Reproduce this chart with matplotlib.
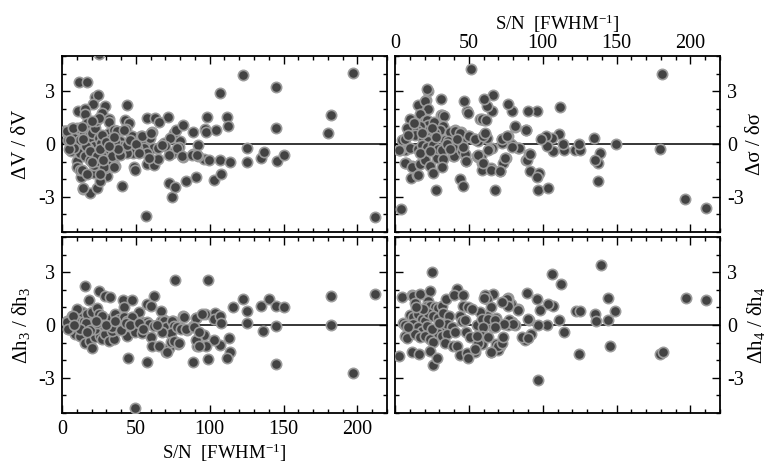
import matplotlib
matplotlib.use("Agg")
import matplotlib.pyplot as plt
from matplotlib.ticker import MultipleLocator

plt.rcParams['font.family'] = ['Liberation Serif', 'DejaVu Serif']
plt.rcParams['mathtext.fontset'] = 'custom'
plt.rcParams['mathtext.rm'] = 'Liberation Serif'
plt.rcParams['mathtext.it'] = 'Liberation Serif:italic'
plt.rcParams['mathtext.default'] = 'regular'
plt.rcParams['axes.unicode_minus'] = False

# ---- Panel 1: dV / delta V ----
v_sn = [122.4, 106.8, 144.6, 197.3, 181.9, 179.9, 144.8, 211.8, 57, 74.7, 72.6, 76.5, 84.2, 90.7, 102.7, 107.5,
        40.5, 30.8, 14.3, 18.8, 23.5, 12.7, 48.9, 49.3, 57.5, 62.4, 65, 81.7, 96.4, 99.5, 107.2, 113.6, 125.3, 125.3,
        135, 136.6, 145.7, 150.2, 88.9, 92.1, 91.9, 80.1, 75.6, 77, 81.9, 88.7, 96.6, 97.3, 98.4, 104.1, 111.8, 112.7,
        71.5, 57.7, 62.7, 66, 61.1, 44.3, 42.5, 45.2, 36.7, 43.2, 47.3, 53.2, 53.8, 59.7, 68.8, 73.3, 74.7, 79, 69.9,
        61.5, 55.7, 57.5, 59, 50.7, 48.4, 43.9, 39.4, 34.8, 35.9, 26.2, 29, 24.9, 21.7, 25.8, 10.4, 10.4, 12.2, 11.8,
        17.2, 25, 22.6, 24.4, 20.8, 10.9, 15.8, 15.4, 29, 27.1, 31.7, 32.1, 2.3, 4.1, 6.8, 7.9, 10.2, 9, 6.3, 12.4,
        15.8, 17, 14.7, 18.1, 19.2, 20.4, 22.6, 21.5, 17.6, 15.8, 19.2, 22.6, 21.5, 23.8, 24.9, 26.7, 27.1, 29.4,
        30.5, 28.3, 32.8, 33.9, 31.7, 35.1, 37.3, 41.9, 39.6, 40.7, 44.1, 39.6, 13.6, 23, 25, 20, 27, 12, 16, 19,
        24, 26, 33, 36, 38, 30, 14, 8, 5, 17, 20, 26, 28, 32, 35, 46, 50, 52, 3.4, 5.4, 7.2, 13.6, 54.3, 60, 65.2,
        67.9, 72.4, 78, 81.4, 88.2, 91.6, 35.1, 14.0]
v_dv = [3.9, 2.91, 3.24, 4.06, 1.62, 0.63, 0.91, -4.13, -4.1, -3.0, -2.23, -2.42, -2.08, -1.89, -2.04, -1.71,
        -2.38, -1.81, -2.53, -2.78, -2.48, -1.85, -1.28, -1.5, -1.16, -1.18, -0.86, -0.74, -0.84, -0.93, -0.9, -1.05,
        -0.23, -1.03, -0.8, -0.48, -0.97, -0.63, -0.59, -0.67, -0.04, 0.15, 0.63, 0.78, 1.09, 0.7, 0.86, 0.67, 1.54,
        0.78, 1.54, 1.05, 1.54, 1.45, 1.47, 1.24, 0.67, 2.21, 1.39, 1.2, 0.76, 0.86, 0.44, 0.44, 0.17, 0.32, 0.06,
        0.34, -0.51, -0.17, -0.13, -0.25, -0.23, -0.51, -0.8, -0.23, -0.51, -0.51, -0.55, -0.99, -1.24, -1.12, -1.35,
        -1.47, -1.66, -2.08, -0.99, -1.28, -1.47, 3.52, 3.52, 5.1, 2.69, 2.76, 2.3, 1.9, 2.0, 1.68, 2.15, 1.77, 1.43,
        1.24, 0.72, 0.25, 0.91, 0.34, 0.91, -0.13, -0.42, -0.51, 0.82, 1.2, 0.63, 0.44, 0.15, 0.63, 0.91, -0.13,
        -0.23, -0.7, -0.9, -0.51, -1.18, -0.99, 0.34, 0.06, -0.32, -0.61, -0.9, -1.28, -0.32, -0.7, 0.63, 0.82, 0.72,
        0.82, 0.15, -0.13, -0.04, -0.61, -1.47, 1.3, 1.5, 1.3, 0.5, 0.2, -0.1, -0.4, -0.7, -0.3, 0.3, 0.1, -0.3,
        0.1, 0.3, -0.2, -0.3, -1.7, -1.0, -1.7, -0.9, -0.1, 0.4, 0.2, 0.0, -0.5, 0.72, 0.25, 0.91, 0.95, 0.44, 0.63,
        -0.23, -0.04, -0.61, -0.23, -0.7, -0.61, -0.61, -1.28, -2.51]

# ---- Panel 2: d sigma / delta sigma ----
s_sn = [51.5, 181, 179.5, 196.4, 210.6, 4.1, 27.5, 67.7, 96.6, 103.4, 44, 46.3, 137.7, 137.7, 138.8, 135.4, 134.5,
        149.4, 121.9, 125.3, 124.6, 114.4, 113.5, 111.1, 112, 106, 107.2, 102.5, 102.7, 98.6, 90.7, 88.7, 91.6, 97.5,
        96.2, 96, 90.3, 88.7, 81.3, 79, 76.3, 83.5, 80.1, 78.6, 76.3, 72.2, 72.7, 74.9, 73.4, 71.1, 65, 66.6, 65.9,
        62.1, 60.5, 60.3, 57.6, 61, 62.1, 65.5, 63.7, 56.4, 53.7, 58.3, 56, 59.1, 58.7, 48.8, 47, 49.7, 47.4, 48.1,
        45.1, 40.6, 44.7, 39.3, 40.2, 31.2, 32.7, 31.2, 22.6, 21.4, 20.8, 15.8, 6.8, 3.4, 7.2, 11.7, 10.8, 15.1,
        20.3, 22.6, 49.2, 10.2, 16.9, 20.3, 21.4, 22.6, 26.6, 31.6, 33.4, 32.7, 30.5, 27.1, 23.7, 19.2, 16.9, 14.7,
        12.4, 7.9, 13.5, 4.5, 6.8, 19.2, 24.8, 22.6, 33.9, 37.2, 40.6, 44, 36.1, 41.8, 50.1, 54.2, 59.8, 60.9, 59.1,
        61.4, 72.2, 75.6, 81.3, 88.5, 84, 79, 2.7, 10.2, 15.8, 18.1, 21.4, 26, 6.8, 11.3, 15.3, 16.9, 20.3, 23.7,
        26, 28.2, 29.3, 31.6, 32.7, 31.6, 39.5, 40.2, 45.1, 47.4, 47.9, 46.3, 55.3, 56.4, 59.8, 65, 63.2, 71.1, 74.5,
        89.2, 91.4, 18, 25, 28, 35, 13, 9, 17, 24, 37, 42]
s_ds = [4.25, 4.0, -0.29, -3.12, -3.66, -3.7, -2.61, -2.61, -2.61, -2.48, -2.0, -2.38, -2.13, -1.09, -0.51, -0.93,
        0.36, 0.0, -0.32, -0.32, 0.0, -0.32, 0.02, 0.59, 2.1, 0.34, -0.38, 0.44, -0.1, 0.3, -0.55, -0.9, -1.56,
        -1.66, -1.85, 1.85, 1.89, 0.78, 0.97, 1.87, 2.25, -0.23, -0.13, 0.0, 0.44, 0.29, 0.06, -0.8, -1.09, -1.56,
        -1.37, 2.76, 1.87, 2.15, 2.57, 1.39, 1.43, 0.59, 0.34, -0.23, -0.29, 0.15, 0.29, -0.67, -0.74, -1.09, -1.47,
        1.87, 2.44, 0.44, -0.61, -0.99, 0.15, 0.82, 0.67, -0.7, -0.23, 2.57, 1.58, 1.62, 3.01, 3.1, 2.48, 2.19,
        -0.32, -0.32, -1.09, -1.24, -1.96, -1.75, 2.44, 2.0, 1.77, 1.43, 1.68, 1.29, 1.39, 1.1, 1.24, 1.62, 1.58,
        1.05, 0.82, 0.63, 0.72, 0.82, 1.01, 0.78, 0.91, 0.91, 0.53, 0.25, 0.29, 0.34, 0.29, 0.15, 0.25, 0.66, 0.72,
        0.63, 0.15, 0.15, 0.44, 0.29, 0.44, 0.63, 1.43, 1.39, 0.29, 0.47, 1.01, 0.82, -0.23, -0.17, -0.32, -0.23,
        -0.29, -0.04, -0.17, -0.04, -1.09, -1.28, -1.75, -1.12, -0.89, -1.24, -1.62, -0.8, -0.29, -0.36, -0.86,
        -1.31, -0.17, -0.7, -0.42, -0.55, -0.99, -0.17, -0.7, -0.61, -1.09, -1.47, -0.32, -1.56, -0.8, -0.89, -0.55,
        0.6, 0.9, 0.4, 0.0, 1.2, 0.5, -0.5, -0.4, -0.3, 0.3]

# ---- Panel 3: d h3 / delta h3 ----
h3_sn = [49.5, 197.3, 211.8, 181.9, 181.9, 76.5, 98.5, 115.8, 122.4, 125.3, 125.3, 135, 139.8, 144.6, 150, 136.4,
         145.2, 144.6, 103.4, 103.2, 107.2, 107.7, 107.2, 102.7, 112.9, 114, 111.8, 98.6, 97.6, 96, 97.1, 91.4, 91.4,
         88.7, 90.9, 88.7, 84.6, 81.9, 79.6, 78.5, 75.6, 70.6, 72.2, 73.3, 69.2, 75.1, 15.8, 24.9, 29.4, 32.4, 18.6,
         41.4, 47.1, 62.2, 57.7, 60, 41.9, 52, 67, 82.6, 90.5, 94.6, 44.8, 57.2, 11.3, 14.7, 18.1, 21.5, 26, 29.4,
         32.8, 36.2, 38.5, 41.9, 13.6, 17, 20.4, 23.8, 24.9, 27.1, 44.1, 47.5, 48.6, 54.3, 57.7, 58.8, 62.2, 66.7,
         69, 70.1, 74.7, 75.8, 73.5, 78.1, 80.3, 83.7, 89.4, 9, 12.4, 15.8, 19.2, 20.4, 22.6, 26, 27.1, 29.4, 31.7,
         35.1, 33.9, 38.5, 44.1, 49.3, 54.3, 60, 61.1, 65.6, 67.9, 71.3, 73.5, 75.8, 79.2, 90.5, 92.8, 92.8, 3.4,
         6.8, 10.2, 4.5, 3.2, 4.3, 7.2, 16, 22, 28, 34, 12, 19, 24, 30, 36, 40, 43, 46, 52, 55, 64, 8, 17, 23]
h3_dh = [-4.7, -2.71, 1.77, 1.64, 0.0, 2.57, 2.53, 1.01, 1.45, 0.78, 0.11, 1.1, 1.45, 1.07, 1.01, -0.32, -0.04,
         -2.23, 0.69, 0.34, 0.5, 0.1, -1.12, -0.86, -0.74, -1.56, -1.85, -1.94, -1.22, -0.57, 0.63, -0.9, -1.22,
         -2.1, 0.38, -0.08, -0.27, 0.5, -0.1, -1.1, -0.99, -1.52, -1.31, -0.46, 0.3, 0.25, 2.2, 1.96, 1.64, 1.58,
         1.44, 1.43, 1.44, 1.62, 1.2, 1.1, 1.01, 0.76, 0.82, 0.47, 0.38, 0.63, -1.89, -2.13, 0.15, 0.25, 0.34, 0.15,
         0.06, 0.25, 0.34, 0.63, 0.34, 0.44, 0.72, 0.63, 0.76, 0.95, 0.63, 0.53, 0.25, 0.44, -0.04, 0.15, 0.19, 0.06,
         -0.04, 0.25, 0.25, -0.13, 0.25, -0.04, -0.46, -0.13, -0.23, -0.23, -0.13, -0.51, -0.61, -1.03, -0.9, -1.28,
         -0.7, -0.61, -0.8, -0.51, -0.9, -0.8, -0.32, -0.23, -0.61, -0.42, -0.46, -0.7, -1.22, -1.22, -0.42, -1.52,
         -0.95, -0.9, -1.03, -0.84, -1.18, -0.42, 0.25, 0.53, 0.91, -0.23, 0.15, -0.23, 0.53, 0.1, -0.2, 0.0, -0.1,
         -0.2, -0.3, 0.1, 0.0, 0.2, -0.3, 0.1, 0.0, 0.1, -0.2, 0.0, 0.0, -0.4, 0.2]

# ---- Panel 4: d h4 / delta h4 ----
h4_sn = [139.5, 106.1, 112.2, 24.8, 196.8, 210.6, 144.5, 149, 144, 135.4, 135.9, 145.4, 124.8, 179.5, 181.3, 96.6,
         122.3, 125.3, 114.4, 111.1, 106.8, 103.4, 102.7, 97.1, 98.4, 96, 89.4, 91.9, 88.1, 90.7, 83.5, 79.2, 81.3,
         76.7, 78.6, 76.3, 76.7, 71.1, 70, 68.4, 65, 66.6, 60.9, 62.1, 65, 68.2, 66.6, 62.1, 57.6, 62.1, 57.6, 55.3,
         58.7, 56.4, 54.2, 49.7, 4.5, 11.3, 12.4, 16.9, 13.5, 23.7, 22.6, 21.4, 23.7, 27.1, 29.3, 31.6, 34.3, 41.8,
         40.2, 46.3, 46.3, 49.2, 51.9, 10.2, 12.4, 5.6, 6.8, 15.8, 18.1, 20.3, 22.6, 26, 29.3, 32.7, 36.6, 12.4,
         15.8, 18.1, 21.4, 24.8, 28.2, 31.6, 35, 38.4, 6.8, 7.9, 13.5, 16.9, 20.3, 23.7, 26, 29.3, 31.6, 35, 2.7,
         11.7, 16.3, 23.7, 26, 28.2, 33.9, 39.5, 41.8, 44, 48.5, 49.2, 44, 45.1, 47.4, 40.6, 47.9, 50.8, 58.7, 63.2,
         67.7, 60.5, 75.6, 76.7, 72.2, 83.5, 89.8, 77.2, 80.1, 74, 67.7, 59.8, 58.7, 59.1, 56.4, 55.3, 63.2, 70,
         72.2, 73.4, 65, 54.2, 85.8, 90.3, 19, 25, 30, 14, 9]
h4_dh = [3.43, 2.88, 2.34, 2.99, 1.56, 1.43, 1.56, 0.78, 0.29, 0.65, 0.23, -1.18, -1.62, -1.62, -1.52, -3.12,
         0.78, 0.78, -0.38, 0.3, 1.07, 1.18, 0.0, 0.0, 0.88, 1.45, 1.79, -0.53, -0.84, 0.29, 0.91, 0.15, 0.02, 0.02,
         1.2, 1.26, 1.52, -1.22, -1.41, -1.07, -1.52, 1.75, 1.68, 1.49, 1.01, 0.38, -0.1, 0.53, 0.72, 0.06, 0.06,
         0.0, -0.61, -1.09, -1.52, -1.64, 1.58, 1.71, 1.64, 1.77, 1.25, 1.96, 1.39, 1.1, 1.1, 1.01, 0.95, 1.1, 1.48,
         2.06, 1.71, 1.71, 1.1, 1.01, 0.91, 0.57, 0.44, 0.09, 0.0, 0.63, 0.34, 0.25, 0.69, 0.53, 0.38, 0.69, 0.5,
         0.06, -0.13, -0.32, -0.04, -0.32, -0.23, -0.13, 0.06, -0.13, -0.61, -0.76, -0.51, -0.7, -0.61, -0.8,
         -0.95, -0.46, -0.61, -0.51, -1.75, -1.56, -1.66, -1.47, -2.28, -1.85, -1.03, -1.22, -1.22, -1.71, -1.6,
         -1.85, 0.5, 0.25, 0.3, -0.42, -0.38, -0.7, 0.34, 0.34, 0.3, 1.52, 1.49, 1.1, 1.3, 0.88, 0.34, 0.3, 0.06,
         0.06, -0.1, -0.13, -0.61, -1.09, -1.03, -0.65, -0.7, -1.22, -1.03, -0.7, -1.56, -1.37, -0.7, -0.76, 0.9,
         -0.2, 0.1, 1.0, -0.1]

ylabels = ['ΔV / δV', 'Δσ / δσ', 'Δh$_{3}$ / δh$_{3}$', 'Δh$_{4}$ / δh$_{4}$']
xlabel = 'S/N  [FWHM$^{-1}$]'
xticks_major = 50
yticks_major = 3

panels = [(v_sn, v_dv), (s_sn, s_ds), (h3_sn, h3_dh), (h4_sn, h4_dh)]

W, H = 767, 465
fig = plt.figure(figsize=(W / 100, H / 100), dpi=100)
lefts = [62, 395, 62, 395]
tops = [56, 56, 237, 237]
pw, ph = 325, 176

for i, (xs, ys) in enumerate(panels):
    ax = fig.add_axes([lefts[i] / W, 1 - (tops[i] + ph) / H, pw / W, ph / H])
    ax.axhline(0, color='black', lw=1.1, zorder=1)
    ax.scatter(xs, ys, s=55, c='#434343', edgecolors='#9b9b9b', linewidths=1.2, zorder=3)
    ax.set_xlim(0, 220)
    ax.set_ylim(-5, 5)
    ax.xaxis.set_major_locator(MultipleLocator(xticks_major))
    ax.xaxis.set_minor_locator(MultipleLocator(10))
    ax.yaxis.set_major_locator(MultipleLocator(yticks_major))
    ax.yaxis.set_minor_locator(MultipleLocator(1))
    ax.tick_params(which='both', direction='in', top=True, bottom=True, left=True, right=True,
                   labelsize=14.5, width=1)
    ax.tick_params(which='major', length=6)
    ax.tick_params(which='minor', length=3)
    for sp in ax.spines.values():
        sp.set_linewidth(1.3)
    right = i % 2 == 1
    cy = 1 - (tops[i] + ph / 2) / H
    if right:
        ax.tick_params(labelleft=False, labelright=True, pad=5)
        fig.text(756 / W, cy, ylabels[i], rotation=90, ha='center', va='center', fontsize=15)
    else:
        ax.tick_params(pad=5)
        fig.text(21 / W, cy, ylabels[i], rotation=90, ha='center', va='center', fontsize=15)
    if i == 0:
        ax.tick_params(labelbottom=False)
    elif i == 1:
        ax.tick_params(axis='x', labelbottom=False, labeltop=True, pad=2)
        ax.xaxis.set_label_position('top')
        ax.set_xlabel(xlabel, fontsize=13.5, labelpad=3)
    elif i == 2:
        ax.tick_params(axis='x', pad=5)
        ax.set_xlabel(xlabel, fontsize=13.5, labelpad=2)
    else:
        ax.tick_params(labelbottom=False)

fig.savefig('out.png', dpi=100)
